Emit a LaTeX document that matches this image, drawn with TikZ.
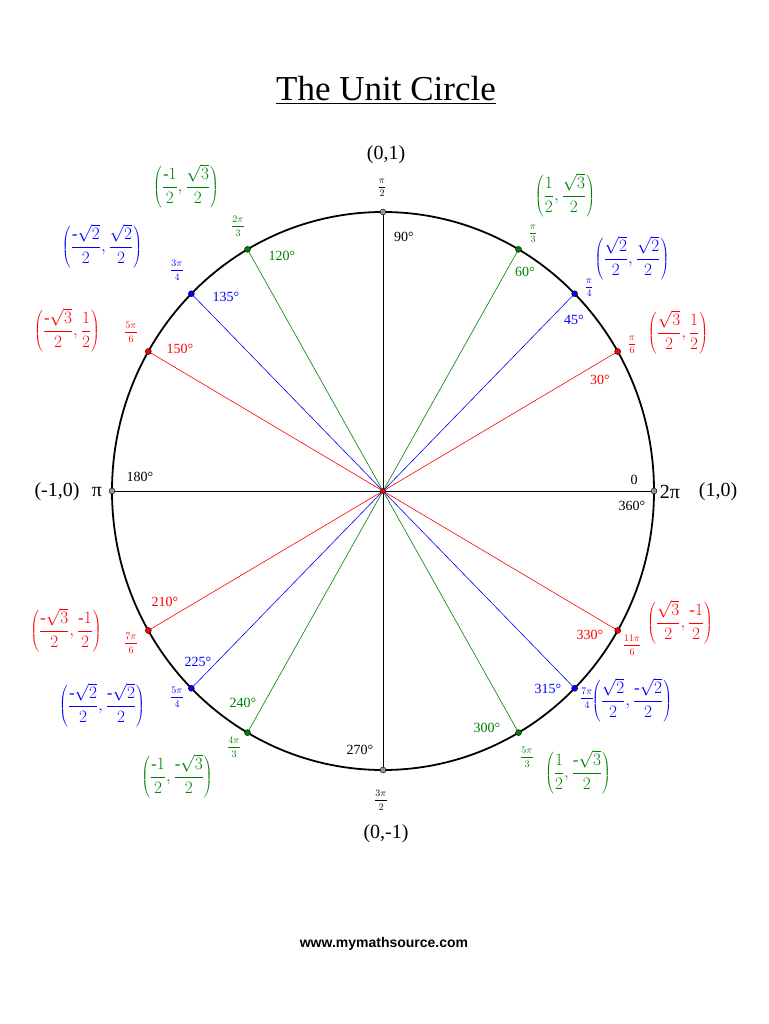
\documentclass[tikz,border=0pt]{standalone}
\usepackage{fontspec}
\setmainfont{Liberation Serif}
\newfontfamily\webfont{Liberation Sans}
\definecolor{ured}{RGB}{255,0,0}
\definecolor{ublue}{RGB}{0,0,255}
\definecolor{ugreen}{RGB}{0,128,0}
\definecolor{ugray}{RGB}{150,150,150}
\newcommand{\mfr}[2]{$\displaystyle\frac{#1}{#2}$}
\newcommand{\pair}[4]{{\fontsize{17}{20}\selectfont$\displaystyle\left(\frac{#1}{#2},\frac{#3}{#4}\right)$}}
\newcommand{\mneg}{\mbox{-}}
\begin{document}
\begin{tikzpicture}[x=1pt,y=-1pt,
  dot/.style={circle,draw=black,line width=0.4pt,inner sep=0pt,minimum size=6pt},
  deg/.style={font=\fontsize{14}{16}\selectfont,inner sep=0pt},
  rad/.style={font=\fontsize{10}{12}\selectfont,inner sep=0pt},
  crd/.style={font=\fontsize{20}{22}\selectfont,inner sep=0pt},
  pr/.style={inner sep=0pt}]
\useasboundingbox (0,0) rectangle (768,1024);
\fill[white] (0,0) rectangle (768,1024);
\node[font=\fontsize{35}{38}\selectfont] (title) at (386,90) {\underline{The Unit Circle}};
\coordinate (O) at (383,491);
\draw[line width=0.5pt] (112,491) -- (654,491);
\draw[line width=0.5pt] (383,212) -- (383,770);
\foreach \a/\c in {30/ured,150/ured,210/ured,330/ured,45/ublue,135/ublue,225/ublue,315/ublue,60/ugreen,120/ugreen,240/ugreen,300/ugreen}{
  \coordinate (q\a) at ({383+271*cos(\a)},{491-279*sin(\a)});
  \draw[\c,line width=0.6pt] (O) -- (q\a);
}
\draw[line width=1.8pt] (O) ellipse [x radius=271pt, y radius=279pt];
\foreach \a/\c in {0/ugray,90/ugray,180/ugray,270/ugray,30/ured,150/ured,210/ured,330/ured,45/ublue,135/ublue,225/ublue,315/ublue,60/ugreen,120/ugreen,240/ugreen,300/ugreen}{
  \node[dot,fill=\c] (p\a) at ({383+271*cos(\a)},{491-279*sin(\a)}) {};
}
\node[dot,fill=ured,minimum size=5pt] (c) at (O) {};
\node[crd] (l0) at (386,155) {(0,1)};
\node[rad] at (382,188) {\mfr{\pi}{2}};
\node[deg] at (404,237) {90°};
\node[deg] at (634,480) {0};
\node[crd] at (670,492) {2π};
\node[crd] at (718,492) {(1,0)};
\node[deg] at (632,506) {360°};
\node[deg] at (360,750) {270°};
\node[rad] at (381,800) {\mfr{3\pi}{2}};
\node[crd] at (386,834) {(0,-1)};
\node[deg] at (140,477) {180°};
\node[crd] at (97,492) {π};
\node[crd] at (57,492) {(-1,0)};
\begin{scope}[ured]
\node[pr] at (678,332) {\pair{\sqrt{3}}{2}{1}{2}};
\node[rad] at (632,345) {\mfr{\pi}{6}};
\node[deg] at (600,380) {30°};
\node[deg] at (590,635) {330°};
\node[rad] at (632,645) {\mfr{11\pi}{6}};
\node[pr] at (680,622) {\pair{\sqrt{3}}{2}{\mneg1}{2}};
\node[deg] at (165,602) {210°};
\node[rad] at (131,643) {\mfr{7\pi}{6}};
\node[pr] at (66,630) {\pair{\mneg\sqrt{3}}{2}{\mneg1}{2}};
\node[deg] at (180,349) {150°};
\node[rad] at (131,332) {\mfr{5\pi}{6}};
\node[pr] at (67,330) {\pair{\mneg\sqrt{3}}{2}{1}{2}};
\end{scope}
\begin{scope}[ublue]
\node[pr] at (632,258) {\pair{\sqrt{2}}{2}{\sqrt{2}}{2}};
\node[rad] at (589,288) {\mfr{\pi}{4}};
\node[deg] at (574,320) {45°};
\node[deg] at (548,689) {315°};
\node[rad] at (587,698) {\mfr{7\pi}{4}};
\node[pr] at (632,700) {\pair{\sqrt{2}}{2}{\mneg\sqrt{2}}{2}};
\node[deg] at (198,662) {225°};
\node[rad] at (177,697) {\mfr{5\pi}{4}};
\node[pr] at (102,705) {\pair{\mneg\sqrt{2}}{2}{\mneg\sqrt{2}}{2}};
\node[deg] at (226,297) {135°};
\node[rad] at (177,270) {\mfr{3\pi}{4}};
\node[pr] at (102,246) {\pair{\mneg\sqrt{2}}{2}{\sqrt{2}}{2}};
\end{scope}
\begin{scope}[ugreen]
\node[pr] at (565,195) {\pair{1}{2}{\sqrt{3}}{2}};
\node[rad] at (533,234) {\mfr{\pi}{3}};
\node[deg] at (525,272) {60°};
\node[deg] at (487,728) {300°};
\node[rad] at (527,757) {\mfr{5\pi}{3}};
\node[pr] at (578,772) {\pair{1}{2}{\mneg\sqrt{3}}{2}};
\node[deg] at (243,703) {240°};
\node[rad] at (234,747) {\mfr{4\pi}{3}};
\node[pr] at (177,776) {\pair{\mneg1}{2}{\mneg\sqrt{3}}{2}};
\node[deg] at (282,256) {120°};
\node[rad] at (238,226) {\mfr{2\pi}{3}};
\node[pr] at (186,186) {\pair{\mneg1}{2}{\sqrt{3}}{2}};
\end{scope}
\node[font=\webfont\bfseries\fontsize{14}{16}\selectfont] (web) at (384,944) {www.mymathsource.com};
\end{tikzpicture}
\end{document}
